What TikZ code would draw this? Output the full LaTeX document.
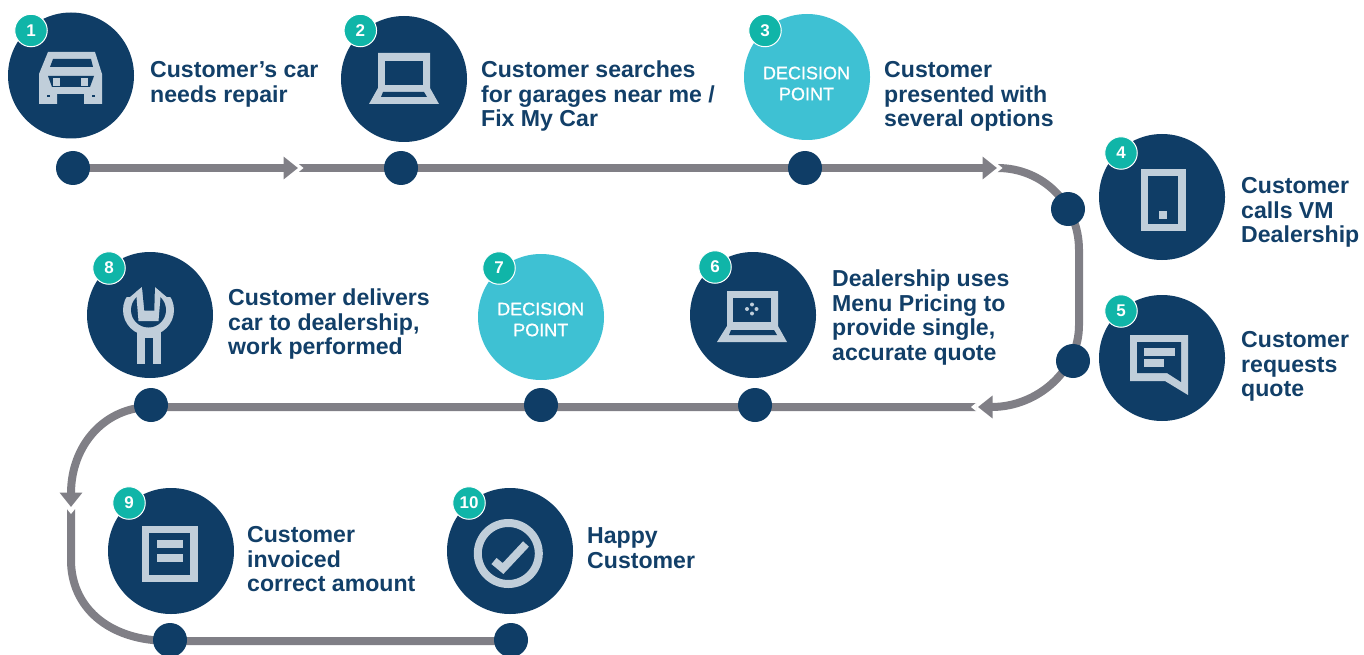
\documentclass[tikz,border=0pt]{standalone}
\usepackage{fontspec}
\setmainfont{Liberation Sans}
\newfontfamily\decfont[FakeBold=0.8]{Liberation Sans}
\usetikzlibrary{arrows.meta,backgrounds}
\definecolor{navy}{HTML}{0F3D66}
\definecolor{ink}{HTML}{123F68}
\definecolor{teal}{HTML}{10B5A8}
\definecolor{sky}{HTML}{3EC1D3}
\definecolor{track}{HTML}{807F86}
\definecolor{iconc}{HTML}{C0CEDA}
\tikzset{
  big/.style={circle,fill=navy,minimum size=126pt,inner sep=0pt},
  decide/.style={circle,fill=sky,minimum size=126pt,inner sep=0pt},
  dectext/.style={inner sep=0pt,text=white,align=center,
    font=\fontsize{18}{21}\decfont},
  badge/.style={circle,fill=teal,draw=white,line width=1pt,minimum size=32.5pt,inner sep=0pt,text=white,
    font=\fontsize{17}{17}\selectfont\bfseries},
  dot/.style={circle,fill=navy,minimum size=34pt,inner sep=0pt},
  lbl/.style={anchor=north west,inner sep=0pt,align=left,text=ink,
    font=\fontsize{23.1}{24.6}\selectfont\bfseries},
  track/.style={draw=track,line width=8pt},
  head/.style={-{Triangle[length=14.5pt,width=22pt]}},
  icon/.style={fill=iconc},
  hole/.style={fill=navy},
  ring/.style={draw=iconc,line width=8pt}
}
\begin{document}
\begin{tikzpicture}[x=1pt,y=-1pt]
\useasboundingbox (0,0) rectangle (1364,655);
% big circles
\node[big] (c1) at (71,75.5) {};
\node[big] (c2) at (404,79) {};
\node[decide] (c3) at (807,77) {};
\node[dectext] (c3t) at (806.5,83.5) {DECISION\\POINT};
\node[big] (c4) at (1162,197) {};
\node[big] (c5) at (1162,358) {};
\node[big] (c6) at (753,315) {};
\node[decide] (c7) at (541,317) {};
\node[dectext] (c7t) at (540.7,319.5) {DECISION\\POINT};
\node[big] (c8) at (150,315) {};
\node[big] (c9) at (171,551) {};
\node[big] (c10) at (510,551) {};
% badges
\node[badge] (b1) at (31,30.5) {1};
\node[badge] (b2) at (360.3,30.5) {2};
\node[badge] (b3) at (765,30.5) {3};
\node[badge] (b4) at (1121,153) {4};
\node[badge] (b5) at (1121,311) {5};
\node[badge] (b6) at (715,267) {6};
\node[badge] (b7) at (499,268) {7};
\node[badge] (b8) at (109,268) {8};
\node[badge] (b9) at (129,503) {9};
\node[badge] (b10) at (469,503) {10};
% dots
\node[dot] (d1) at (73,168) {};
\node[dot] (d2) at (401,168) {};
\node[dot] (d3) at (805,168) {};
\node[dot] (d4) at (1068,209) {};
\node[dot] (d5) at (1073,361) {};
\node[dot] (d6) at (755,405) {};
\node[dot] (d7) at (541,405) {};
\node[dot] (d8) at (151,405) {};
\node[dot] (d9) at (170,640) {};
\node[dot] (d10) at (511,640) {};
% connector ends
\coordinate (tip1) at (298,168);
\coordinate (tail1) at (298.5,168);
\coordinate (tip2) at (997,168);
\coordinate (tail2) at (997.5,168);
\coordinate (tip3) at (978,407);
\coordinate (tail3) at (976,407);
\coordinate (tip4) at (71,507);
\coordinate (tail4) at (71,509);
\begin{pgfonlayer}{background}
\draw[track,head] (d1.center) -- (tip1);
\draw[track,head] (tail1) -- (d2.center) -- (d3.center) -- (tip2);
\draw[track,head] (tail2) .. controls (1043,168) and (1079,204) .. (1079,250) -- (1079,325)
   .. controls (1079,371) and (1037,407) .. (tip3);
\draw[track,head] (tail3) -- (d6 |- tail3) -- (d7 |- tail3) -- (d8 |- tail3)
   .. controls (105,407) and (71,445) .. (tip4);
\draw[track] (tail4) -- (71,560) .. controls (71,606) and (107,641) .. (d9 |- 0,641) -- (d10 |- 0,641);
\end{pgfonlayer}
% tail notches
\fill[white] (298,163.5) -- (303.5,168) -- (298,172.5) -- cycle;
\fill[white] (997,163.5) -- (1002.5,168) -- (997,172.5) -- cycle;
\fill[white] (976.5,402.5) -- (971,407) -- (976.5,411.5) -- cycle;
\fill[white] (66.5,508.5) -- (71,514) -- (75.5,508.5) -- cycle;
% labels
\node[lbl] (t1) at (150,60) {\strut Customer’s car\\needs repair};
\node[lbl] (t2) at (481,60) {\strut Customer searches\\for garages near me /\\Fix My Car};
\node[lbl] (t3) at (884,60) {\strut Customer\\presented with\\several options};
\node[lbl] (t4) at (1241,176) {\strut Customer\\calls VM\\Dealership};
\node[lbl] (t5) at (1241,330) {\strut Customer\\requests\\quote};
\node[lbl] (t6) at (832,269) {\strut Dealership uses\\Menu Pricing to\\provide single,\\accurate quote};
\node[lbl] (t8) at (228,288) {\strut Customer delivers\\car to dealership,\\work performed};
\node[lbl] (t9) at (247,525) {\strut Customer\\invoiced\\correct amount};
\node[lbl] (t10) at (587,526) {\strut Happy\\Customer};
% icon 1: car
\fill[icon] (48,52) -- (95,52) -- (102,74) -- (102,104) -- (84,104) -- (84,94) -- (57,94) -- (57,104) -- (39,104) -- (39,74) -- cycle;
\fill[hole] (53,59) -- (91,59) -- (93,67) -- (50,67) -- cycle;
\fill[hole] (48,76) -- (94,76) -- (90,87) -- (52,87) -- cycle;
\fill[icon] (53,78) rectangle (60,86);
\fill[icon] (81,78) rectangle (88,86);
\fill[hole] (47,95) rectangle (49.5,97.5);
\fill[hole] (92,95) rectangle (94.5,97.5);
% icon 2: laptop
\fill[icon] (378,53) -- (430,53) -- (430,88) -- (439,104) -- (369,104) -- (378,88) -- cycle;
\fill[hole] (385,61) rectangle (423,85);
\fill[hole] (383,92) -- (424,92) -- (427,97) -- (381,97) -- cycle;
% icon 4: phone
\fill[icon] (1141,169) rectangle (1186,231);
\fill[hole] (1148,176) rectangle (1178,224);
\fill[icon] (1159,211) rectangle (1167,219);
% icon 5: chat
\fill[icon] (1130,335) -- (1188,335) -- (1188,395) -- (1165,381) -- (1130,381) -- cycle;
\fill[hole] (1137,342) -- (1181,342) -- (1181,382) -- (1167,373) -- (1137,373) -- cycle;
\fill[icon] (1144,348) rectangle (1175,356);
\fill[icon] (1144,359) rectangle (1164,367);
% icon 6: laptop with dots
\fill[icon] (727,291) -- (778,291) -- (778,326) -- (787,342) -- (717,342) -- (727,326) -- cycle;
\fill[hole] (733,298) rectangle (771,322);
\fill[hole] (731,330) -- (774,330) -- (777,335) -- (729,335) -- cycle;
\fill[icon] (752,304.5) circle (2);
\fill[icon] (747,309) circle (2);
\fill[icon] (756.5,309) circle (2);
\fill[icon] (752,313.5) circle (2);
% icon 8: wrench
\begin{scope}
\clip (100,340) -- (100,297) -- (130,297) -- (141.7,287.3) -- (155,287.3) -- (166.7,297) -- (200,297) -- (200,340) -- cycle;
\fill[icon] (148.5,310) circle (25.5);
\fill[hole] (148.5,310) circle (17.5);
\fill[icon] (135.5,285) -- (161.5,285) -- (158.5,321) -- (138.5,321) -- cycle;
\end{scope}
\fill[hole] (141.7,284) -- (155,284) -- (154.3,310.5) -- (144.3,310.5) -- cycle;
\fill[icon] (137,328) rectangle (161,364);
\fill[hole] (145,338) rectangle (153,365);
% icon 9: document
\fill[icon] (142,526) rectangle (198,582);
\fill[hole] (149,533) rectangle (190,575);
\fill[icon] (157,540) rectangle (183,548);
\fill[icon] (157,554) rectangle (183,562);
% icon 10: check
\draw[ring] (508.3,553.5) circle (30.5);
\draw[iconc,line width=8pt] (494,561) -- (503,568.5) -- (526,544);
\end{tikzpicture}
\end{document}
